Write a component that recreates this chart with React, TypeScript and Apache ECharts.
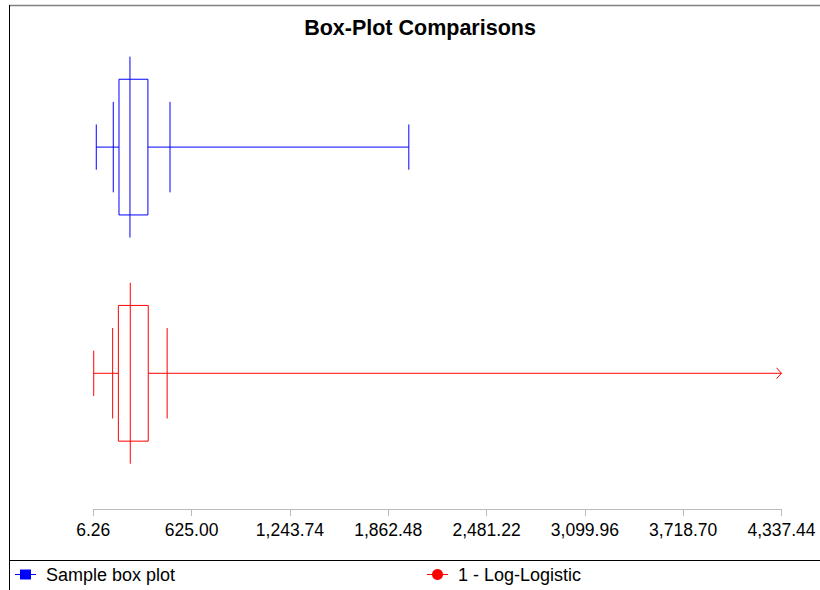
import { useEffect, useRef } from "react";
import * as echarts from "echarts";

const chartTitle = "Box-Plot Comparisons";
const seriesNames = ["Sample box plot", "1 - Log-Logistic"];
const seriesColors = ["#0000ff", "#ff0000"];
const rowPositions = [1, 0];
const lowerCap = [25, 8.8];
const lowerTick = [132, 128];
const q1 = [168, 164];
const median = [237, 239];
const q3 = [350, 352];
const upperTick = [489, 471];
const upperCap = [1992, 4337.44];
const openEnded = [false, true];
const tickValues = [6.26, 625.0, 1243.74, 1862.48, 2481.22, 3099.96, 3718.7, 4337.44];
const axisMin = 6.26;
const axisMax = 4337.44;

const FONT = "'Liberation Sans', Arial, sans-serif";

export default function App() {
  const ref = useRef<HTMLDivElement>(null);

  useEffect(() => {
    if (!ref.current) return;
    const chart = echarts.init(ref.current, undefined, { renderer: "svg" });

    const boxData = seriesNames.map((_, i) => [
      rowPositions[i],
      lowerCap[i],
      lowerTick[i],
      q1[i],
      median[i],
      q3[i],
      upperTick[i],
      upperCap[i],
      openEnded[i] ? 1 : 0,
    ]);

    const renderItem = (params: any, api: any) => {
      const idx = params.dataIndex;
      const color = seriesColors[idx];
      const y = api.value(0);
      const pt = (v: number, dy: number) => api.coord([v, y + dy]);
      const lineStyle = { stroke: color, lineWidth: 1, fill: "none" };
      const vline = (v: number, h: number) => {
        const a = pt(v, h);
        const b = pt(v, -h);
        return {
          type: "line",
          shape: { x1: a[0], y1: a[1], x2: b[0], y2: b[1] },
          style: { ...lineStyle },
        };
      };
      const lo = api.value(1);
      const lt = api.value(2);
      const b1 = api.value(3);
      const md = api.value(4);
      const b3 = api.value(5);
      const ut = api.value(6);
      const hi = api.value(7);
      const open = api.value(8) === 1;
      const c0 = pt(lo, 0);
      const cq1 = pt(b1, 0);
      const cq3 = pt(b3, 0);
      const chi = pt(hi, 0);
      const cy = c0[1];
      const boxTop = pt(b1, 0.3);
      const boxBot = pt(b3, -0.3);
      const children: any[] = [
        {
          type: "line",
          shape: { x1: c0[0], y1: cy, x2: cq1[0], y2: cy },
          style: { ...lineStyle },
        },
        {
          type: "line",
          shape: { x1: cq3[0], y1: cy, x2: chi[0], y2: cy },
          style: { ...lineStyle },
        },
        vline(lo, 0.1),
        vline(lt, 0.2),
        vline(ut, 0.2),
        {
          type: "rect",
          shape: {
            x: boxTop[0],
            y: boxTop[1],
            width: boxBot[0] - boxTop[0],
            height: boxBot[1] - boxTop[1],
          },
          style: { ...lineStyle },
        },
        vline(md, 0.4),
      ];
      if (open) {
        children.push({
          type: "polyline",
          shape: { points: [[chi[0] - 5, cy - 5.5], [chi[0], cy], [chi[0] - 5, cy + 5.5]] },
          style: { ...lineStyle },
        });
      } else {
        children.push(vline(hi, 0.1));
      }
      return { type: "group", children };
    };

    const legendY = 574;
    const legendGraphics: any[] = [];
    const legendX = [15, 427];
    seriesNames.forEach((name, i) => {
      const x0 = legendX[i];
      const color = seriesColors[i];
      legendGraphics.push({
        type: "line",
        shape: { x1: x0, y1: legendY + 0.5, x2: x0 + 21, y2: legendY + 0.5 },
        style: { stroke: color, lineWidth: 1 },
      });
      if (i === 0) {
        legendGraphics.push({
          type: "rect",
          shape: { x: x0 + 5, y: legendY - 4.5, width: 11, height: 10 },
          style: { fill: color },
        });
      } else {
        legendGraphics.push({
          type: "circle",
          shape: { cx: x0 + 10.5, cy: legendY + 0.5, r: 5.5 },
          style: { fill: color },
        });
      }
      legendGraphics.push({
        type: "text",
        x: x0 + 31,
        y: legendY + 0.5,
        style: {
          text: name,
          font: `18px ${FONT}`,
          fill: "#000",
          verticalAlign: "middle",
        },
      });
    });

    chart.setOption({
      animation: false,
      backgroundColor: "#ffffff",
      title: {
        text: chartTitle,
        left: 420,
        textAlign: "center",
        top: 17,
        padding: 0,
        textStyle: { fontFamily: FONT, fontSize: 21.5, fontWeight: "bold", color: "#000" },
      },
      grid: { left: 93.3, right: 38.5, top: 34, height: 475, containLabel: false },
      xAxis: {
        type: "value",
        min: axisMin,
        max: axisMax,
        axisLine: { show: true, onZero: false, lineStyle: { color: "#bbbbbb", width: 1 } },
        axisTick: { show: true, length: 7, customValues: tickValues, lineStyle: { color: "#bbbbbb" } },
        axisLabel: {
          customValues: tickValues,
          margin: 12,
          fontSize: 17.5,
          fontFamily: FONT,
          color: "#000",
          formatter: (v: number) =>
            v.toLocaleString("en-US", { minimumFractionDigits: 2, maximumFractionDigits: 2 }),
        },
        splitLine: { show: false },
      },
      yAxis: { type: "value", min: -0.6, max: 1.5, show: false },
      series: [
        {
          type: "custom",
          name: "boxes",
          data: boxData,
          renderItem,
          clip: false,
          encode: { x: [1, 2, 3, 4, 5, 6, 7], y: 0 },
        },
      ],
      graphic: [
        {
          type: "line",
          shape: { x1: 9, y1: 5.5, x2: 820, y2: 5.5 },
          style: { stroke: "#808080", lineWidth: 1.5 },
        },
        {
          type: "line",
          shape: { x1: 9.5, y1: 5, x2: 9.5, y2: 590 },
          style: { stroke: "#000", lineWidth: 1 },
        },
        {
          type: "line",
          shape: { x1: 9, y1: 560.5, x2: 820, y2: 560.5 },
          style: { stroke: "#000", lineWidth: 1 },
        },
        ...legendGraphics,
      ],
    });

    return () => chart.dispose();
  }, []);

  return (
    <div
      ref={ref}
      style={{ position: "fixed", left: 0, top: 0, width: 820, height: 590, background: "#fff" }}
    />
  );
}
